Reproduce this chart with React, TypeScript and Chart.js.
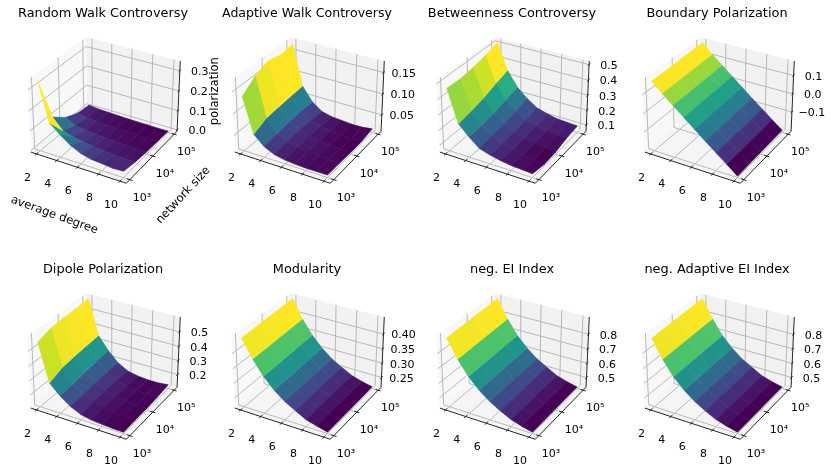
import React, { useEffect, useRef } from "react";
import { Chart, registerables } from "chart.js";

Chart.register(...registerables);

// Mesh axes
const degrees = [2, 3, 4, 5, 6, 7, 8, 9, 10];
const logSizes = [3, 3.5, 4, 4.5, 5];
const xTicks = [2, 4, 6, 8, 10];
const xTickLabels = ["2", "4", "6", "8", "10"];
const yTicks = [3, 4, 5];
const yTickLabels = ["10³", "10⁴", "10⁵"];

// Polarization values: one row per average degree, one column per log10(network size)
const randomWalk = [
  [0.34, 0.11, 0.055, 0.025, 0.016],
  [0.15, 0.055, 0.028, 0.016, 0.01],
  [0.107, 0.04, 0.02, 0.011, 0.007],
  [0.07, 0.03, 0.015, 0.008, 0.005],
  [0.045, 0.024, 0.012, 0.006, 0.003],
  [0.032, 0.018, 0.009, 0.005, 0.002],
  [0.028, 0.015, 0.007, 0.003, 0.001],
  [0.022, 0.012, 0.005, 0.002, 0.0],
  [0.025, 0.012, 0.005, 0.002, 0.0],
];
const adaptiveWalk = [
  [0.137, 0.16, 0.173, 0.165, 0.169],
  [0.057, 0.07, 0.072, 0.074, 0.075],
  [0.035, 0.04, 0.043, 0.044, 0.043],
  [0.024, 0.028, 0.03, 0.028, 0.026],
  [0.019, 0.023, 0.024, 0.022, 0.02],
  [0.017, 0.02, 0.02, 0.018, 0.018],
  [0.016, 0.019, 0.017, 0.015, 0.016],
  [0.016, 0.017, 0.015, 0.0134, 0.016],
  [0.016, 0.016, 0.014, 0.014, 0.019],
];
const betweenness = [
  [0.464, 0.46, 0.47, 0.49, 0.514],
  [0.256, 0.27, 0.29, 0.32, 0.346],
  [0.19, 0.195, 0.21, 0.23, 0.25],
  [0.135, 0.145, 0.155, 0.17, 0.19],
  [0.115, 0.115, 0.12, 0.13, 0.145],
  [0.1, 0.095, 0.1, 0.11, 0.125],
  [0.09, 0.08, 0.085, 0.095, 0.11],
  [0.085, 0.07, 0.075, 0.09, 0.105],
  [0.08, 0.0646, 0.07, 0.09, 0.1],
];
const boundary = [
  [0.165, 0.166, 0.167, 0.168, 0.1699],
  [0.116, 0.116, 0.117, 0.117, 0.118],
  [0.07, 0.07, 0.071, 0.071, 0.072],
  [0.024, 0.024, 0.025, 0.025, 0.026],
  [-0.022, -0.022, -0.021, -0.021, -0.02],
  [-0.068, -0.068, -0.067, -0.066, -0.066],
  [-0.112, -0.112, -0.112, -0.111, -0.11],
  [-0.157, -0.157, -0.156, -0.155, -0.155],
  [-0.2026, -0.201, -0.2, -0.199, -0.198],
];
const dipole = [
  [0.552, 0.58, 0.585, 0.585, 0.591],
  [0.298, 0.33, 0.34, 0.345, 0.348],
  [0.23, 0.235, 0.245, 0.255, 0.259],
  [0.178, 0.185, 0.19, 0.19, 0.19],
  [0.145, 0.155, 0.16, 0.155, 0.15],
  [0.13, 0.14, 0.14, 0.135, 0.135],
  [0.125, 0.13, 0.13, 0.125, 0.128],
  [0.12, 0.122, 0.122, 0.12, 0.128],
  [0.118, 0.12, 0.12, 0.125, 0.135],
];
const modularity = [
  [0.447, 0.448, 0.449, 0.45, 0.452],
  [0.388, 0.388, 0.389, 0.39, 0.391],
  [0.341, 0.341, 0.342, 0.343, 0.343],
  [0.305, 0.305, 0.306, 0.307, 0.307],
  [0.278, 0.278, 0.278, 0.279, 0.279],
  [0.258, 0.258, 0.258, 0.259, 0.259],
  [0.239, 0.24, 0.24, 0.24, 0.24],
  [0.229, 0.229, 0.229, 0.229, 0.229],
  [0.2198, 0.22, 0.22, 0.22, 0.221],
];
const negEI = [
  [0.895, 0.897, 0.899, 0.902, 0.905],
  [0.776, 0.777, 0.779, 0.781, 0.783],
  [0.681, 0.682, 0.683, 0.685, 0.686],
  [0.61, 0.611, 0.612, 0.614, 0.615],
  [0.556, 0.556, 0.557, 0.558, 0.559],
  [0.515, 0.516, 0.517, 0.518, 0.519],
  [0.479, 0.479, 0.48, 0.48, 0.48],
  [0.457, 0.457, 0.457, 0.458, 0.458],
  [0.44, 0.44, 0.44, 0.441, 0.441],
];
const negAdaptiveEI = [
  [0.892, 0.896, 0.899, 0.902, 0.905],
  [0.775, 0.777, 0.78, 0.782, 0.783],
  [0.68, 0.682, 0.684, 0.685, 0.686],
  [0.61, 0.611, 0.612, 0.614, 0.615],
  [0.556, 0.556, 0.557, 0.558, 0.559],
  [0.515, 0.516, 0.517, 0.518, 0.519],
  [0.479, 0.479, 0.48, 0.48, 0.48],
  [0.457, 0.457, 0.457, 0.458, 0.458],
  [0.44, 0.44, 0.44, 0.441, 0.441],
];

const viridis = ["#440154", "#482475", "#414487", "#355f8d", "#2a788e", "#21918c", "#22a884", "#44bf70", "#7ad151", "#bddf26", "#fde725"];

const panels = [
  { title: "Random Walk Controversy", z: randomWalk, zTicks: [0, 0.1, 0.2, 0.3], zLabels: ["0.0", "0.1", "0.2", "0.3"] },
  { title: "Adaptive Walk Controversy", z: adaptiveWalk, zTicks: [0.05, 0.1, 0.15], zLabels: ["0.05", "0.10", "0.15"] },
  { title: "Betweenness Controversy", z: betweenness, zTicks: [0.1, 0.2, 0.3, 0.4, 0.5], zLabels: ["0.1", "0.2", "0.3", "0.4", "0.5"] },
  { title: "Boundary Polarization", z: boundary, zTicks: [-0.1, 0, 0.1], zLabels: ["−0.1", "0.0", "0.1"] },
  { title: "Dipole Polarization", z: dipole, zTicks: [0.2, 0.3, 0.4, 0.5], zLabels: ["0.2", "0.3", "0.4", "0.5"] },
  { title: "Modularity", z: modularity, zTicks: [0.25, 0.3, 0.35, 0.4], zLabels: ["0.25", "0.30", "0.35", "0.40"] },
  { title: "neg. EI Index", z: negEI, zTicks: [0.5, 0.6, 0.7, 0.8], zLabels: ["0.5", "0.6", "0.7", "0.8"] },
  { title: "neg. Adaptive EI Index", z: negAdaptiveEI, zTicks: [0.5, 0.6, 0.7, 0.8], zLabels: ["0.5", "0.6", "0.7", "0.8"] },
];

const FONT = "'DejaVu Sans'";
const AREA_W = 170;
const AREA_H = 170;
const PAD_X = 60;
const PAD_TOP = 10;
const TITLE_H = 18;
const PAD_BOTTOM = 60;
const COL_STEP = 204.7;
const ROW_STEP = 255.7;
const LEFT0 = 17.7;
const TOP0 = 23.8;
const BOX_XY = 1.143;
const BOX_Z = 0.857;

const hexRgb = (h: string) => [1, 3, 5].map((i) => parseInt(h.slice(i, i + 2), 16));
function cmap(t: number) {
  const v = Math.max(0, Math.min(1, t)) * (viridis.length - 1);
  const i = Math.min(viridis.length - 2, Math.floor(v));
  const a = hexRgb(viridis[i]);
  const b = hexRgb(viridis[i + 1]);
  const c = a.map((av, k) => Math.round(av + (b[k] - av) * (v - i)));
  return `rgb(${c[0]},${c[1]},${c[2]})`;
}

// matplotlib's default 3D view: elev 30, azim -60, dist 10, box aspect 4:4:3
const elev = (30 * Math.PI) / 180;
const azim = (-60 * Math.PI) / 180;
const nv = [Math.cos(elev) * Math.cos(azim), Math.cos(elev) * Math.sin(azim), Math.sin(elev)];
const uLen = Math.hypot(nv[0], nv[1]);
const uv = [-nv[1] / uLen, nv[0] / uLen, 0];
const vv = [nv[1] * uv[2] - nv[2] * uv[1], nv[2] * uv[0] - nv[0] * uv[2], nv[0] * uv[1] - nv[1] * uv[0]];
const dot = (a: number[], b: number[]) => a[0] * b[0] + a[1] * b[1] + a[2] * b[2];

function limits(values: number[], margin: number) {
  const lo = Math.min(...values);
  const hi = Math.max(...values);
  const m = (hi - lo) * margin;
  return [lo - m, hi + m];
}

function buildPanel(p: (typeof panels)[number]) {
  const xl = limits(degrees, 0.05);
  const yl = limits(logSizes, 0.05);
  const zl = limits(p.z.flat(), 0);
  const norm = (x: number, y: number, z: number) => [
    ((x - xl[0]) / (xl[1] - xl[0]) - 0.5) * BOX_XY,
    ((y - yl[0]) / (yl[1] - yl[0]) - 0.5) * BOX_XY,
    ((z - zl[0]) / (zl[1] - zl[0]) - 0.5) * BOX_Z,
  ];
  const proj = (x: number, y: number, z: number) => {
    const q = norm(x, y, z);
    const w = 10 - dot(nv, q);
    return { x: dot(uv, q) / w, y: dot(vv, q) / w };
  };
  const depth = (x: number, y: number, z: number) => dot(nv, norm(x, y, z));
  const dx = (xl[1] - xl[0]) / 48;
  const dy = (yl[1] - yl[0]) / 48;
  const dz = (zl[1] - zl[0]) / 48;
  const X0 = xl[0] - dx, X1 = xl[1] + dx;
  const Y0 = yl[0] - dy, Y1 = yl[1] + dy;
  const Z0 = zl[0] - dz, Z1 = zl[1] + dz;

  const quads: { pts: { x: number; y: number }[]; m: number; d: number }[] = [];
  for (let i = 0; i < degrees.length - 1; i++) {
    for (let j = 0; j < logSizes.length - 1; j++) {
      const c = [
        [degrees[i], logSizes[j], p.z[i][j]],
        [degrees[i + 1], logSizes[j], p.z[i + 1][j]],
        [degrees[i + 1], logSizes[j + 1], p.z[i + 1][j + 1]],
        [degrees[i], logSizes[j + 1], p.z[i][j + 1]],
      ];
      const pts = c.map((k) => proj(k[0], k[1], k[2]));
      pts.push(pts[0]);
      const m = (c[0][2] + c[1][2] + c[2][2] + c[3][2]) / 4;
      const d = c.reduce((s, k) => s + depth(k[0], k[1], k[2]), 0) / 4;
      quads.push({ pts, m, d });
    }
  }
  const mLo = Math.min(...quads.map((q) => q.m));
  const mHi = Math.max(...quads.map((q) => q.m));
  quads.sort((a, b) => b.d - a.d);

  const base = { showLine: true, pointRadius: 0, pointHoverRadius: 0, tension: 0, clip: false as const };
  const datasets: any[] = quads.map((q) => {
    const col = cmap((q.m - mLo) / (mHi - mLo));
    return { ...base, data: q.pts, fill: "shape", backgroundColor: col, borderColor: col, borderWidth: 0.6 };
  });

  const GAP = { x: NaN, y: NaN };
  const axisCol = "#262626";
  const tickLen = 0.028;
  const ticks: { x: number; y: number }[] = [];
  for (const t of xTicks) {
    const d = (yl[1] - yl[0]) * tickLen;
    ticks.push(proj(t, Y0 + d, Z0), proj(t, Y0 - d, Z0), GAP);
  }
  for (const t of yTicks) {
    const d = (xl[1] - xl[0]) * tickLen;
    ticks.push(proj(X1 - d, t, Z0), proj(X1 + d, t, Z0), GAP);
  }
  for (const t of p.zTicks) {
    const d = (yl[1] - yl[0]) * tickLen;
    ticks.push(proj(X1, Y1 - d, t), proj(X1, Y1 + d, t), GAP);
  }
  const axes = [
    proj(X0, Y0, Z0), proj(X1, Y0, Z0), proj(X1, Y1, Z0), proj(X1, Y1, Z1),
  ];
  const grid: { x: number; y: number }[] = [];
  for (const t of xTicks) grid.push(proj(t, Y0, Z0), proj(t, Y1, Z0), proj(t, Y1, Z1), GAP);
  for (const t of yTicks) grid.push(proj(X1, t, Z0), proj(X0, t, Z0), proj(X0, t, Z1), GAP);
  for (const t of p.zTicks) grid.push(proj(X0, Y0, t), proj(X0, Y1, t), proj(X1, Y1, t), GAP);

  datasets.push({ ...base, data: ticks, borderColor: axisCol, borderWidth: 1, fill: false });
  datasets.push({ ...base, data: axes, borderColor: axisCol, borderWidth: 1, fill: false });
  datasets.push({ ...base, data: grid, borderColor: "#b8b8b8", borderWidth: 1, fill: false });
  const pane = (pts: number[][], c: string) => {
    const d = pts.map((k) => proj(k[0], k[1], k[2]));
    d.push(d[0]);
    datasets.push({ ...base, data: d, fill: "shape", backgroundColor: c, borderColor: "rgba(0,0,0,0)", borderWidth: 0 });
  };
  pane([[X0, Y0, Z0], [X1, Y0, Z0], [X1, Y1, Z0], [X0, Y1, Z0]], "rgba(236,236,236,0.5)");
  pane([[X0, Y1, Z0], [X1, Y1, Z0], [X1, Y1, Z1], [X0, Y1, Z1]], "rgba(230,230,230,0.5)");
  pane([[X0, Y0, Z0], [X0, Y1, Z0], [X0, Y1, Z1], [X0, Y0, Z1]], "rgba(242,242,242,0.5)");

  const texts: { t: string; at: { x: number; y: number }; ox: number; oy: number }[] = [];
  xTicks.forEach((t, i) => texts.push({ t: xTickLabels[i], at: proj(t, Y0, Z0), ox: -9, oy: 24 }));
  yTicks.forEach((t, i) => texts.push({ t: yTickLabels[i], at: proj(X1, t, Z0), ox: 12, oy: 18 }));
  p.zTicks.forEach((t, i) => texts.push({ t: p.zLabels[i], at: proj(X1, Y1, t), ox: 20, oy: 1.5 }));
  return { datasets, texts };
}

function Panel({ index }: { index: number }) {
  const ref = useRef<HTMLCanvasElement>(null);
  const p = panels[index];
  const col = index % 4;
  const row = Math.floor(index / 4);
  const left = LEFT0 + col * COL_STEP - PAD_X;
  const top = TOP0 + row * ROW_STEP - PAD_TOP - TITLE_H;
  useEffect(() => {
    const { datasets, texts } = buildPanel(p);
    const labels = {
      id: "labels3d",
      afterDraw(chart: any) {
        const { ctx, scales } = chart;
        ctx.save();
        ctx.fillStyle = "#000";
        ctx.font = `11px ${FONT}`;
        ctx.textAlign = "center";
        ctx.textBaseline = "middle";
        for (const l of texts) {
          ctx.fillText(l.t, scales.x.getPixelForValue(l.at.x) + l.ox, scales.y.getPixelForValue(l.at.y) + l.oy);
        }
        if (index === 0) {
          ctx.font = `11.6px ${FONT}`;
          const put = (t: string, x: number, y: number, r: number) => {
            ctx.save();
            ctx.translate(x + PAD_X - LEFT0, y + PAD_TOP + TITLE_H - TOP0);
            ctx.rotate((r * Math.PI) / 180);
            ctx.fillText(t, 0, 0);
            ctx.restore();
          };
          put("average degree", 54, 215, 20);
          put("network size", 183, 195, -47);
          put("polarization", 215, 91, -90);
        }
        ctx.restore();
      },
    };
    const chart = new Chart(ref.current!, {
      type: "scatter",
      data: { datasets },
      plugins: [labels],
      options: {
        animation: false,
        responsive: false,
        events: [],
        layout: { padding: { left: PAD_X, right: PAD_X, top: PAD_TOP, bottom: PAD_BOTTOM } },
        plugins: {
          legend: { display: false },
          tooltip: { enabled: false },
          title: {
            display: true,
            text: p.title,
            color: "#000",
            font: { family: FONT, size: 12.9, weight: "normal", lineHeight: "16px" },
            padding: { top: 0, bottom: 2 },
          },
        },
        scales: {
          x: { type: "linear", display: false, min: -0.095, max: 0.09 },
          y: { type: "linear", display: false, min: -0.095, max: 0.09 },
        },
      },
    } as any);
    return () => chart.destroy();
  }, []);
  return (
    <canvas
      ref={ref}
      width={AREA_W + 2 * PAD_X}
      height={AREA_H + PAD_TOP + TITLE_H + PAD_BOTTOM}
      style={{ position: "absolute", left, top, width: AREA_W + 2 * PAD_X, height: AREA_H + PAD_TOP + TITLE_H + PAD_BOTTOM }}
    />
  );
}

export default function App() {
  return (
    <div style={{ position: "fixed", left: 0, top: 0, width: 831, height: 474, overflow: "hidden", background: "#fff", filter: "blur(0.3px)" }}>
      {panels.map((_, i) => (
        <Panel key={i} index={i} />
      ))}
    </div>
  );
}
